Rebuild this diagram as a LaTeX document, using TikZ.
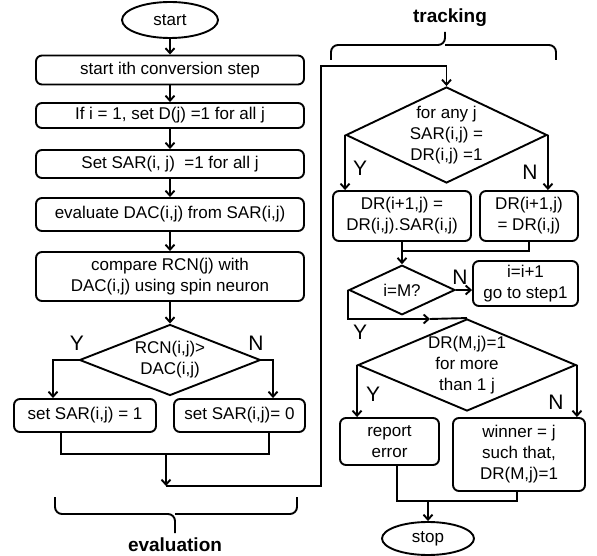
\documentclass[tikz,border=0pt]{standalone}
\usepackage{fontspec}
\setmainfont{Liberation Sans}
\usetikzlibrary{shapes.geometric,arrows.meta}
\tikzset{
  box/.style={draw, rounded corners=6pt, align=center, inner sep=0pt},
  dia/.style={draw, diamond, inner sep=0pt},
  term/.style={draw, ellipse, inner sep=0pt},
  txt/.style={align=center, inner sep=0pt},
  arr/.style={-{Straight Barb[length=5pt,width=9pt]}},
  yn/.style={font=\fontsize{21}{21}\selectfont},
  head/.style={font=\fontsize{19}{19}\selectfont\bfseries}
}

\begin{document}
\begin{tikzpicture}[x=1pt,y=-1pt,line width=1.9pt,font=\fontsize{17}{21}\selectfont]
\useasboundingbox (0,0) rectangle (597,556);

% evaluation
\node[term, minimum width=96pt, minimum height=36pt] (start) at (170,20) {start};
\node[box, minimum width=268pt, minimum height=29pt] (s1) at (170,70) {start ith conversion step};
\node[box, minimum width=268pt, minimum height=25pt] (s2) at (170,115.5) {If i = 1, set D(j) =1 for all j};
\node[box, minimum width=268pt, minimum height=28pt] (s3) at (170,164) {Set SAR(i, j) \ =1 for all j};
\node[box, minimum width=268pt, minimum height=33pt] (s4) at (170,214.5) {evaluate DAC(i,j) from SAR(i,j)};
\node[box, minimum width=268pt, minimum height=49pt] (s5) at (170,276.5) {compare RCN(j) with\\DAC(i,j) using spin neuron};
\node[dia, minimum width=181pt, minimum height=71pt] (d1) at (170,360) {};
\node[txt] (d1t) at (d1) {RCN(i,j)>\\DAC(i,j)};
\node[box, minimum width=142pt, minimum height=33pt] (b6) at (85,415.5) {set SAR(i,j) = 1};
\node[box, minimum width=131pt, minimum height=33pt] (b7) at (239.5,415.5) {set SAR(i,j)= 0};
\node[yn] (y1) at (77,343) {Y};
\node[yn] (n1) at (256,343) {N};

\draw[arr] (start.south) -- (s1.north);
\draw[arr] (s1.south) -- (s2.north);
\draw[arr] (s2.south) -- (s3.north);
\draw[arr] (s3.south) -- (s4.north);
\draw[arr] (s4.south) -- (s5.north);
\draw[arr] (s5.south) -- (d1.north);

\coordinate (k5) at (53,360);
\coordinate (k6) at (273,360);
\draw[arr] (d1.west) -- (k5) -- (k5 |- b6.north);
\draw[arr] (d1.east) -- (k6) -- (k6 |- b7.north);

\coordinate (k3) at (61,454);
\coordinate (k4) at (269,454);
\coordinate (m1) at (166,454);
\coordinate (m2) at (166,486);
\draw (k3 |- b6.south) -- (k3) -- (k4) -- (k4 |- b7.south);
\draw[arr] (m1) -- (m2);

% tracking
\node[dia, minimum width=201pt, minimum height=96pt] (d2) at (446.5,135) {};
\node[txt] (d2t) at (d2) {for any j\\SAR(i,j) =\\DR(i,j) =1};
\node[box, minimum width=138pt, minimum height=50pt] (b8) at (402,216) {DR(i+1,j) =\\DR(i,j).SAR(i,j)};
\node[box, minimum width=98pt, minimum height=50pt] (b9) at (529,216) {DR(i+1,j)\\= DR(i,j)};
\node[dia, minimum width=106pt, minimum height=40pt] (d3) at (402,290) {i=M?};
\node[box, minimum width=105pt, minimum height=45pt] (b10) at (525.5,283.5) {i=i+1\\go to step1};
\node[dia, minimum width=218pt, minimum height=92pt] (d4) at (467,365) {};
\node[txt] (d4t) at (d4) {DR(M,j)=1\\for more\\than 1 j};
\node[box, minimum width=99pt, minimum height=47pt] (b11) at (389.5,441.5) {report\\error};
\node[box, minimum width=132pt, minimum height=73pt] (b12) at (519,454.5) {winner = j\\such that,\\DR(M,j)=1};
\node[term, minimum width=92pt, minimum height=33pt] (stop) at (428,538.5) {stop};
\node[yn] (y2) at (360,168) {Y};
\node[yn] (n2) at (530,172) {N};
\node[yn] (n3) at (460,277) {N};
\node[yn] (y3) at (360,332) {Y};
\node[yn] (y4) at (373,394) {Y};
\node[yn] (n4) at (556,402) {N};

\draw[arr] (m2) -| (321,66) -| (d2.north);
\draw[arr] (d2.west) -- (d2.west |- b8.north);
\draw[arr] (d2.east) -- (d2.east |- b9.north);

\coordinate (j2) at (402,251);
\draw (b8.south) -- (j2) -| (b9.south);
\draw[arr] (j2) -- (d3.north);
\draw[arr] (d3.east) -- (d3.east -| b10.west);

\coordinate (j3) at (430,319);
\draw[arr] (d3.west) |- (j3);
\draw (j3) -- (d4.north);
\draw[arr] (d4.west) -- (d4.west |- b11.north);
\draw[arr] (d4.east) -- (d4.east |- b12.north);

\coordinate (k1) at (397,501);
\coordinate (k2) at (517,501);
\coordinate (j4) at (428,501);
\draw (k1 |- b11.south) -- (k1) -- (k2) -- (k2 |- b12.south);
\draw[arr] (j4) -- (stop.north);

% braces
\draw[rounded corners=7pt] (55,497) |- (175,514) -- (175,533);
\draw[rounded corners=7pt] (297,497) |- (175,514);
\node[head] (eva) at (175,545) {evaluation};
\draw[rounded corners=7pt] (331,60) |- (445,45) -- (445,32);
\draw[rounded corners=7pt] (556,60) |- (445,45);
\node[head] (trk) at (450,18) {tracking};
\end{tikzpicture}
\end{document}
